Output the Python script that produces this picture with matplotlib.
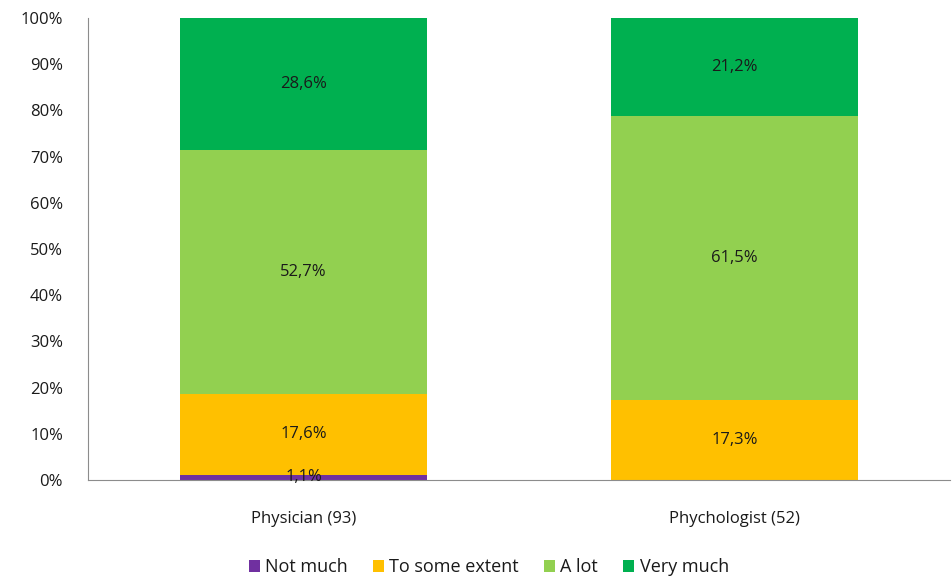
import matplotlib.pyplot as plt
from matplotlib.ticker import FuncFormatter

# Data
groups = ["Physician (93)", "Phychologist (52)"]
levels = ["Not much", "To some extent", "A lot", "Very much"]
not_much = [1.1, 0.0]
some_extent = [17.6, 17.3]
a_lot = [52.7, 61.5]
very_much = [28.6, 21.2]

colors = ["#7030A0", "#FFC000", "#92D050", "#00B050"]

plt.rcParams['font.family'] = ['Open Sans', 'DejaVu Sans']

fig = plt.figure(figsize=(9.53, 5.78), dpi=100)
ax = fig.add_axes([88 / 953, 98 / 578, 862 / 953, 462 / 578])

x = [0.5, 1.5]
width = 0.572
bottom = [0.0, 0.0]
for vals, col, name in zip([not_much, some_extent, a_lot, very_much], colors, levels):
    ax.bar(x, vals, width, bottom=bottom, color=col, label=name, zorder=2)
    for xi, v, b in zip(x, vals, bottom):
        if v > 0:
            ax.text(xi, b + v / 2, f"{v:.1f}%".replace(".", ","),
                    ha="center", va="center", fontsize=12, color="#1a1a1a", zorder=3)
    bottom = [b + v for b, v in zip(bottom, vals)]

ax.set_xlim(0, 2)
ax.set_ylim(0, 100)
ax.set_yticks(range(0, 101, 10))
ax.yaxis.set_major_formatter(FuncFormatter(lambda v, p: f"{int(v)}%"))
ax.set_xticks(x)
ax.set_xticklabels(groups, fontsize=12)
ax.tick_params(axis="y", labelsize=12, length=0, pad=18, labelcolor="#1a1a1a")
ax.tick_params(axis="x", length=0, pad=22, labelcolor="#1a1a1a")

for s in ["top", "right"]:
    ax.spines[s].set_visible(False)
ax.spines["left"].set_color("#8c8c8c")
ax.spines["bottom"].set_color("#8c8c8c")

ax.legend(loc="upper center", bbox_to_anchor=(0.465, -0.142), ncol=4, frameon=False,
          fontsize=13, handlelength=0.6, handleheight=0.6, handletextpad=0.3,
          columnspacing=1.4, labelcolor="#1a1a1a", borderpad=0.2)

plt.savefig("out.png", dpi=100)
